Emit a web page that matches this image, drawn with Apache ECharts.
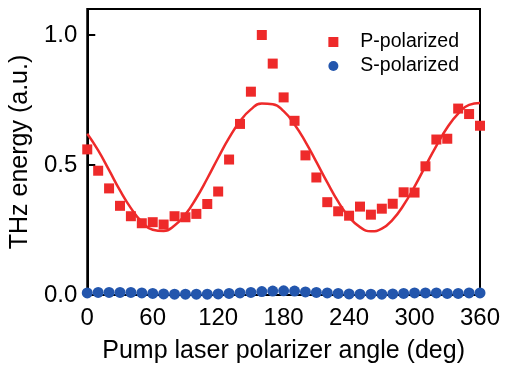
<!DOCTYPE html>
<html><head><meta charset="utf-8">
<script src="https://cdn.jsdelivr.net/npm/echarts@6/dist/echarts.min.js"></script>
<style>html,body{margin:0;padding:0;background:#fff}#c{width:508px;height:369px}</style>
</head><body><div id="c"></div>
<script>
const angles = [0,10,20,30,40,50,60,70,80,90,100,110,120,130,140,150,160,170,180,190,200,210,220,230,240,250,260,270,280,290,300,310,320,330,340,350,360];
const pPolarized = [0.56,0.478,0.41,0.343,0.303,0.276,0.28,0.271,0.303,0.299,0.312,0.35,0.398,0.521,0.658,0.782,1.0,0.89,0.76,0.67,0.537,0.452,0.357,0.322,0.305,0.34,0.309,0.332,0.351,0.395,0.394,0.495,0.598,0.601,0.717,0.696,0.651];
const sPolarized = [0.008,0.01,0.01,0.01,0.01,0.008,0.006,0.004,0.003,0.003,0.003,0.003,0.004,0.006,0.008,0.01,0.013,0.015,0.016,0.015,0.012,0.01,0.008,0.006,0.004,0.003,0.003,0.003,0.004,0.006,0.008,0.008,0.008,0.006,0.006,0.008,0.008];
const fitCurve = [0.62,0.556,0.48,0.402,0.334,0.281,0.251,0.246,0.267,0.31,0.373,0.448,0.528,0.604,0.668,0.714,0.737,0.734,0.707,0.656,0.589,0.512,0.433,0.359,0.3,0.261,0.245,0.255,0.29,0.346,0.417,0.496,0.574,0.644,0.698,0.731,0.738];
const xTicks = [0,60,120,180,240,300,360];
const yTicks = [0.0,0.5,1.0];

const pair = a => angles.map((x,i)=>[x,a[i]]);
const font = 'Liberation Sans, Arial, sans-serif';
const chart = echarts.init(document.getElementById('c'));
chart.setOption({
  animation:false,
  grid:{left:86,right:28,top:9,bottom:71,show:true,borderColor:'#000',borderWidth:2,backgroundColor:'transparent'},
  legend:{
    data:[{name:'P-polarized',icon:'rect'},{name:'S-polarized',icon:'circle'}],
    orient:'vertical',right:44,top:27,itemWidth:10,itemHeight:10,itemGap:4,
    textStyle:{fontFamily:font,fontSize:19.5,color:'#000',padding:[0,0,0,17]}
  },
  xAxis:{
    type:'value',min:0,max:360,interval:60,
    name:'Pump laser polarizer angle (deg)',nameLocation:'middle',nameGap:44,
    nameTextStyle:{fontFamily:font,fontSize:25,color:'#000'},
    axisLine:{lineStyle:{color:'#000',width:2}},
    axisTick:{inside:true,length:6,lineStyle:{color:'#000',width:1.5}},
    axisLabel:{fontFamily:font,fontSize:24,color:'#000',margin:11,
      formatter:v=>xTicks.includes(v)?String(v):''},
    splitLine:{show:false}
  },
  yAxis:{
    type:'value',min:0,max:1.1,interval:0.5,
    name:'THz energy (a.u.)',nameLocation:'middle',nameGap:49,
    nameTextStyle:{fontFamily:font,fontSize:25,color:'#000'},
    axisLine:{lineStyle:{color:'#000',width:2}},
    axisTick:{inside:true,length:8,lineStyle:{color:'#000',width:2}},
    axisLabel:{fontFamily:font,fontSize:24,color:'#000',margin:10,
      formatter:v=>yTicks.some(t=>Math.abs(t-v)<1e-9)?v.toFixed(1):''},
    splitLine:{show:false}
  },
  series:[
    {name:'fit',type:'line',data:pair(fitCurve),smooth:0.5,showSymbol:false,symbol:'none',
      lineStyle:{color:'#ee2a2a',width:2.5},z:2},
    {name:'P-polarized',type:'scatter',data:pair(pPolarized),symbol:'rect',symbolSize:10,
      itemStyle:{color:'#ee2a2a',opacity:1},z:3},
    {name:'S-polarized',type:'scatter',data:pair(sPolarized),symbol:'circle',symbolSize:11,
      itemStyle:{color:'#2356ad',opacity:1},z:3}
  ]
});
</script></body></html>
